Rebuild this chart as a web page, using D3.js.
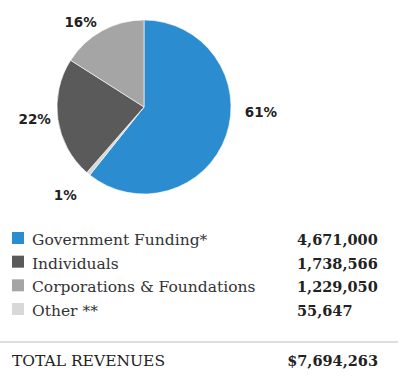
<!DOCTYPE html>
<html>
<head>
<meta charset="utf-8">
<script src="https://cdn.jsdelivr.net/npm/d3@7"></script>
<style>
  body { margin: 0; background: #fff; }
  svg { display: block; }
</style>
</head>
<body>
<div id="chart"></div>
<script>
// revenue breakdown (pie order, clockwise from 12 o'clock)
const pieCats = ['Government Funding*', 'Other **', 'Individuals', 'Corporations & Foundations'];
const pieVals = [4671000, 55647, 1738566, 1229050];
const pieLabels = ['61%', '1%', '22%', '16%'];

// legend order
const legendCats = ['Government Funding*', 'Individuals', 'Corporations & Foundations', 'Other **'];
const legendVals = ['4,671,000', '1,738,566', '1,229,050', '55,647'];
const totalLabel = 'TOTAL REVENUES';
const totalValue = '$7,694,263';

const COLOR = {
  'Government Funding*': '#2b8dcf',
  'Individuals': '#5a5a5a',
  'Corporations & Foundations': '#a5a5a5',
  'Other **': '#d8d8d8'
};

const W = 400, H = 379;
const cx = 144, cy = 107, R = 87;

const svg = d3.select('#chart').append('svg')
  .attr('width', W)
  .attr('height', H);

const pieData = pieCats.map((c, i) => ({ cat: c, value: pieVals[i], label: pieLabels[i] }));

const pie = d3.pie().value(d => d.value).sort(null);
const arcs = pie(pieData);
const arc = d3.arc().innerRadius(0).outerRadius(R);

const g = svg.append('g').attr('transform', `translate(${cx},${cy})`);

g.selectAll('path')
  .data(arcs)
  .join('path')
  .attr('d', arc)
  .attr('fill', d => COLOR[d.data.cat])
  .attr('stroke', '#fff')
  .attr('stroke-width', 0.6);

// percent labels sit outside the rim: radius + angle nudge (degrees)
const labelPos = {
  '61%': { r: 117, nudge: -17 },
  '1%':  { r: 118, nudge: 2 },
  '22%': { r: 110, nudge: 2 },
  '16%': { r: 106, nudge: -8 }
};
g.selectAll('text.pct')
  .data(arcs)
  .join('text')
  .attr('class', 'pct')
  .attr('text-anchor', 'middle')
  .attr('font-family', 'DejaVu Sans, sans-serif')
  .attr('font-weight', 'bold')
  .attr('font-size', 13.5)
  .attr('fill', '#222')
  .attr('transform', d => {
    const p = labelPos[d.data.label];
    const a = (d.startAngle + d.endAngle) / 2 + p.nudge * Math.PI / 180;
    return `translate(${Math.sin(a) * p.r},${-Math.cos(a) * p.r + 5})`;
  })
  .text(d => d.data.label);

// legend
const y = d3.scalePoint().domain(legendCats).range([239, 310]);

const leg = svg.append('g');
const rows = leg.selectAll('g.row')
  .data(legendCats)
  .join('g')
  .attr('class', 'row')
  .attr('transform', d => `translate(0,${y(d)})`);

rows.append('rect')
  .attr('x', 12).attr('y', -7)
  .attr('width', 12).attr('height', 12)
  .attr('fill', d => COLOR[d]);

rows.append('text')
  .attr('x', 32).attr('y', 6)
  .attr('font-family', 'DejaVu Serif, serif')
  .attr('font-size', 15.5)
  .attr('fill', '#333')
  .text(d => d);

// values are left-aligned in their column
rows.append('text')
  .attr('x', 297).attr('y', 6)
  .attr('font-family', 'DejaVu Serif, serif')
  .attr('font-weight', 'bold')
  .attr('font-size', 14.5)
  .attr('fill', '#222')
  .text((d, i) => legendVals[i]);

svg.append('line')
  .attr('x1', 0).attr('x2', 398)
  .attr('y1', 342).attr('y2', 342)
  .attr('stroke', '#bbb')
  .attr('stroke-width', 1);

svg.append('text')
  .attr('x', 12).attr('y', 366)
  .attr('font-family', 'DejaVu Serif, serif')
  .attr('font-size', 15.5)
  .attr('fill', '#222')
  .text(totalLabel);

svg.append('text')
  .attr('x', 378).attr('y', 366)
  .attr('text-anchor', 'end')
  .attr('font-family', 'DejaVu Serif, serif')
  .attr('font-weight', 'bold')
  .attr('font-size', 14.5)
  .attr('fill', '#222')
  .text(totalValue);
</script>
</body>
</html>
